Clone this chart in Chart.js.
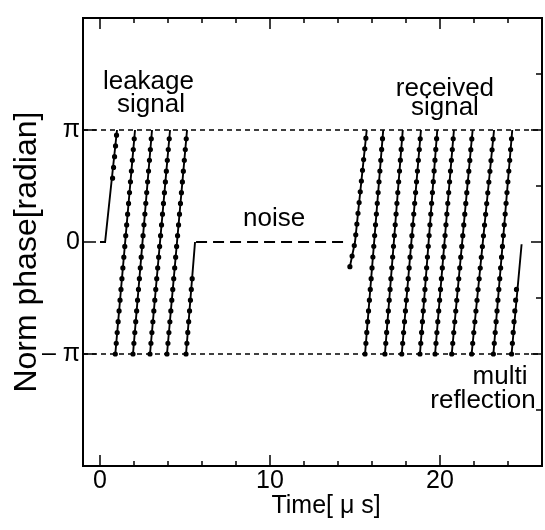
<!DOCTYPE html>
<html><head><meta charset="utf-8">
<script src="https://cdn.jsdelivr.net/npm/chart.js@4/dist/chart.umd.min.js"></script>
<style>html,body{margin:0;padding:0;background:#fff}</style>
</head><body>
<canvas id="c" width="545" height="530"></canvas>
<script>
// ---------- data: time in μs, phase in units of π ----------
const timeMin = -1, timeMax = 26;
const phaseMin = -2, phaseMax = 2;
const timeTickValues = [0, 10, 20];
const timeTickLabels = ['0', '10', '20'];
const timeMinorTicks = [0, 2, 4, 6, 8, 10, 12, 14, 16, 18, 20, 22, 24];
const phaseTickValues = [-1, 0, 1];
const phaseTickLabels = ['– π', '0', 'π'];
const phaseMinorTicks = [-1.5, -0.5, 0.5, 1.5];
const referencePhases = [1, -1];

const leakageSegments = [
  [[0, 0], [0.3, 0], [1.0, 1]],
  [[0.9, -1], [2.06, 1]],
  [[1.94, -1], [3.06, 1]],
  [[2.94, -1], [4.12, 1]],
  [[3.94, -1], [5.12, 1]],
  [[5.06, -1], [5.59, 0]]
];
const leakageDotted = [
  [[0.74, 0.57], [1.0, 1]],
  [[0.9, -1], [2.06, 1]],
  [[1.94, -1], [3.06, 1]],
  [[2.94, -1], [4.12, 1]],
  [[3.94, -1], [5.12, 1]],
  [[5.06, -1], [5.47, -0.24]]
];
const noiseSegment = [[5.65, 0], [14.6, 0]];
const receivedSegments = [
  [[14.7, -0.22], [15.0, 0], [15.69, 1]],
  [[15.59, -1], [16.66, 1]],
  [[16.76, -1], [17.81, 1]],
  [[17.75, -1], [18.88, 1]],
  [[18.82, -1], [19.84, 1]],
  [[19.71, -1], [20.82, 1]],
  [[20.69, -1], [21.92, 1]],
  [[21.86, -1], [23.18, 1]],
  [[23.14, -1], [24.25, 1]],
  [[24.21, -1], [24.8, -0.02]]
];
const receivedDotted = [
  [[14.7, -0.22], [15.0, 0], [15.69, 1]],
  [[15.59, -1], [16.66, 1]],
  [[16.76, -1], [17.81, 1]],
  [[17.75, -1], [18.88, 1]],
  [[18.82, -1], [19.84, 1]],
  [[19.71, -1], [20.82, 1]],
  [[20.69, -1], [21.92, 1]],
  [[21.86, -1], [23.18, 1]],
  [[23.14, -1], [24.25, 1]],
  [[24.21, -1], [24.51, -0.4]]
];
const annotations = [
  { text: 'leakage', t: 2.85, phase: 1.364 },
  { text: 'signal', t: 3.0, phase: 1.161 },
  { text: 'received', t: 20.29, phase: 1.302 },
  { text: 'signal', t: 20.29, phase: 1.135 },
  { text: 'noise', t: 10.24, phase: 0.146 },
  { text: 'multi', t: 23.53, phase: -1.267 },
  { text: 'reflection', t: 22.53, phase: -1.479 }
];
const xTitle = 'Time[ μ s]';
const yTitle = 'Norm phase[radian]';

// ---------- build ----------
const FONT = "'Liberation Sans', Arial, Helvetica, sans-serif";
function flatten(segs) {
  const out = [];
  segs.forEach((s, i) => {
    if (i > 0) out.push({ x: s[0][0], y: null });
    s.forEach(p => out.push({ x: p[0], y: p[1] }));
  });
  return out;
}
const solid = { borderColor: '#000', borderWidth: 1.9, pointRadius: 0, fill: false, spanGaps: false, tension: 0 };
const dotted = { borderColor: '#000', borderWidth: 5.2, borderCapStyle: 'round', borderDash: [0, 10.8], pointRadius: 0, fill: false, spanGaps: false, tension: 0 };

const datasets = [];
referencePhases.forEach(p => datasets.push({
  data: [{ x: timeMin, y: p }, { x: timeMax, y: p }],
  borderColor: '#000', borderWidth: 1.4, borderDash: [5, 4], pointRadius: 0, fill: false
}));
datasets.push({ ...solid, data: flatten(leakageSegments) });
datasets.push({ ...dotted, data: flatten(leakageDotted) });
datasets.push({ ...solid, borderDash: [11, 6], data: flatten([noiseSegment]) });
datasets.push({ ...solid, data: flatten(receivedSegments) });
datasets.push({ ...dotted, data: flatten(receivedDotted) });

const framePlugin = {
  id: 'frame',
  afterDraw(chart) {
    const { ctx, chartArea: a, scales: { x, y } } = chart;
    ctx.save();
    ctx.strokeStyle = '#000';
    ctx.lineWidth = 2;
    ctx.strokeRect(a.left, a.top, a.right - a.left, a.bottom - a.top);
    ctx.lineWidth = 1.5;
    ctx.beginPath();
    timeMinorTicks.forEach(v => {
      const px = x.getPixelForValue(v);
      const len = timeTickValues.includes(v) ? 11 : 5;
      ctx.moveTo(px, a.bottom); ctx.lineTo(px, a.bottom - len);
      ctx.moveTo(px, a.top); ctx.lineTo(px, a.top + len);
    });
    phaseTickValues.forEach(v => {
      const py = y.getPixelForValue(v);
      ctx.moveTo(a.left, py); ctx.lineTo(a.left + 13, py);
      ctx.moveTo(a.right, py); ctx.lineTo(a.right - 11, py);
    });
    phaseMinorTicks.forEach(v => {
      const py = y.getPixelForValue(v);
      ctx.moveTo(a.right, py); ctx.lineTo(a.right - 6, py);
    });
    ctx.stroke();
    // annotations
    ctx.fillStyle = '#000';
    ctx.font = '26px ' + FONT;
    ctx.textAlign = 'center';
    ctx.textBaseline = 'alphabetic';
    annotations.forEach(n => ctx.fillText(n.text, x.getPixelForValue(n.t), y.getPixelForValue(n.phase)));
    // axis titles
    ctx.font = '25px ' + FONT;
    ctx.fillText(xTitle, x.getPixelForValue(13.3), a.bottom + 47);
    ctx.save();
    ctx.font = '32px ' + FONT;
    ctx.translate(36, y.getPixelForValue(-0.09));
    ctx.rotate(-Math.PI / 2);
    ctx.fillText(yTitle, 0, 0);
    ctx.restore();
    ctx.restore();
  }
};

new Chart(document.getElementById('c'), {
  type: 'line',
  data: { datasets },
  options: {
    responsive: false,
    animation: false,
    devicePixelRatio: 1,
    layout: { padding: { top: 13, right: 3, left: 0, bottom: 0 } },
    plugins: { legend: { display: false }, tooltip: { enabled: false } },
    scales: {
      x: {
        type: 'linear', min: timeMin, max: timeMax,
        afterBuildTicks: s => { s.ticks = timeTickValues.map(v => ({ value: v })); },
        afterFit: s => { s.height = 64; },
        grid: { display: false, drawTicks: false }, border: { display: false },
        ticks: { color: '#000', font: { family: FONT, size: 25 }, padding: 0, maxRotation: 0,
          callback: v => timeTickLabels[timeTickValues.indexOf(v)] }
      },
      y: {
        type: 'linear', min: phaseMin, max: phaseMax,
        afterBuildTicks: s => { s.ticks = phaseTickValues.map(v => ({ value: v })); },
        afterFit: s => { s.width = 83; },
        grid: { display: false, drawTicks: false }, border: { display: false },
        ticks: { color: '#000', font: { family: FONT, size: 25 }, padding: 3,
          callback: v => phaseTickLabels[phaseTickValues.indexOf(v)] }
      }
    }
  },
  plugins: [framePlugin]
});
</script>
</body></html>
